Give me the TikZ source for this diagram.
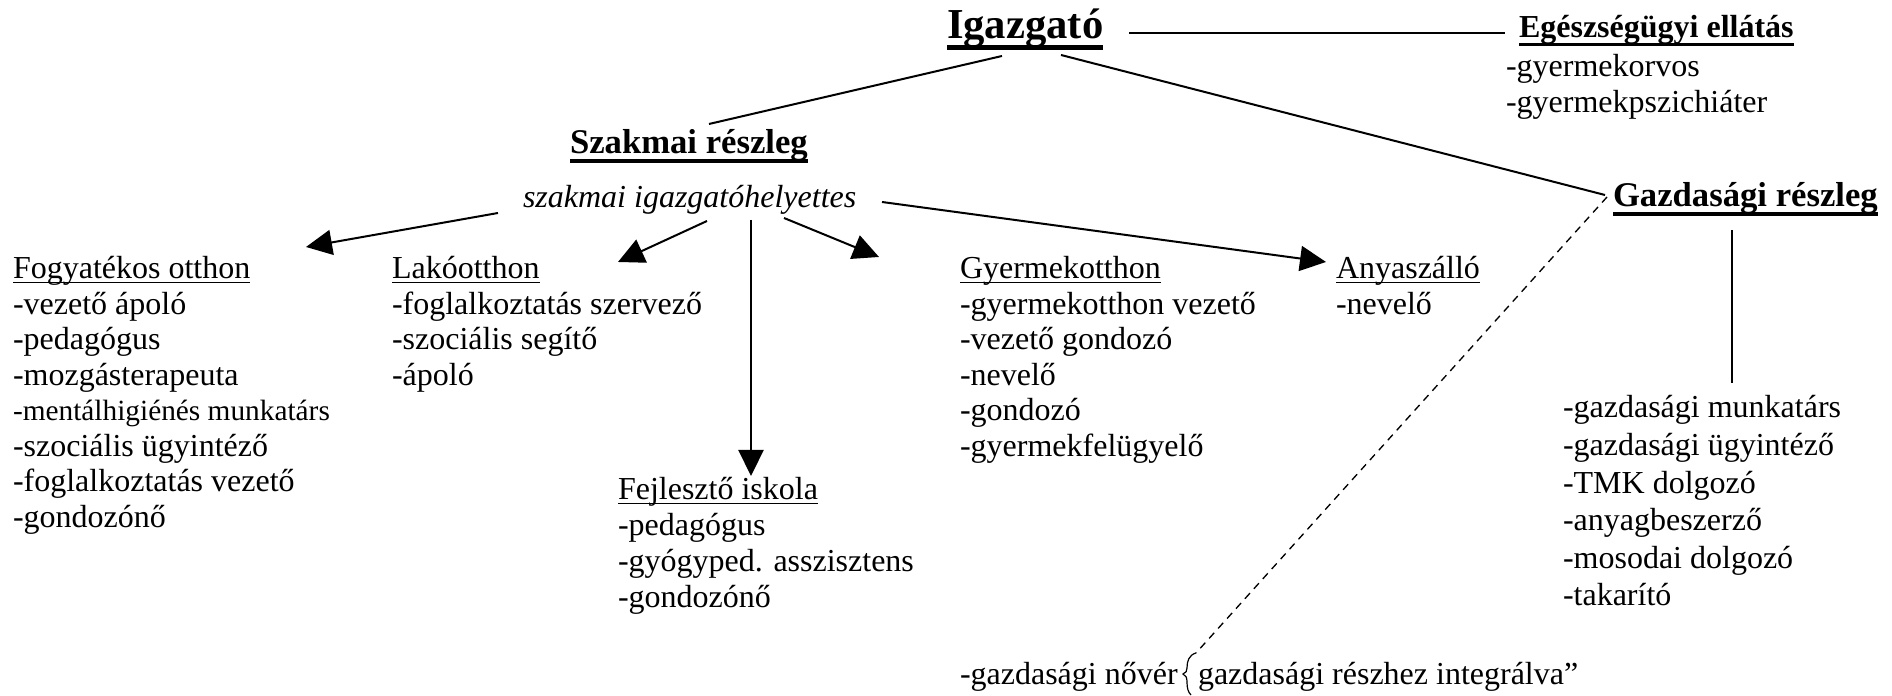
\documentclass[tikz,border=0pt]{standalone}
\usepackage{fontspec}
\setmainfont{Liberation Serif}
\usetikzlibrary{arrows.meta}
\newcommand\ulr[1]{\setbox0\hbox{#1}\rlap{\rule[-0.135em]{\wd0}{0.055em}}\box0}
\newcommand\ulb[1]{\setbox0\hbox{#1}\rlap{\rule[-0.25em]{\wd0}{0.1em}}\box0}
\begin{document}
\begin{tikzpicture}[x=0.375pt,y=-0.375pt,
  txt/.style={anchor=base west,inner sep=0pt,outer sep=0pt,font=\fontsize{12}{14}\selectfont},
  hb/.style={txt,font=\fontsize{13}{15}\selectfont\bfseries},
  conn/.style={line width=0.75pt},
  arr/.style={conn,-{Triangle[length=9.75pt,width=9.4pt]}},
  dsh/.style={line width=0.5pt,dash pattern=on 2.8pt off 2.2pt}]
\useasboundingbox (0,0) rectangle (1892,696);

% headings
\node[txt,font=\fontsize{16}{18}\selectfont\bfseries] (igaz) at (947,39) {\ulb{Igazgató}};
\node[txt,font=\fontsize{12}{14}\selectfont\bfseries] (egesz) at (1519,38) {\ulb{Egészségügyi ellátás}};
\node[hb] (szak) at (570,154) {\ulb{Szakmai részleg}};
\node[txt,font=\fontsize{12}{14}\selectfont\itshape] (helyettes) at (523,208) {szakmai igazgatóhelyettes};
\node[hb] (gazd) at (1613,207) {\ulb{Gazdasági részleg}};

% Egeszsegugyi list
\foreach \t [count=\i] in {-gyermekorvos,-gyermekpszichiáter}
  \node[txt] (eg\i) at (1506,{41+36*\i}) {\t};

% Fogyatekos otthon
\node[txt] (fogy) at (13,279) {\ulr{Fogyatékos otthon}};
\foreach \t [count=\i] in {-vezető ápoló,-pedagógus,-mozgásterapeuta,{{\fontsize{11}{13}\selectfont -mentálhigiénés munkatárs}},-szociális ügyintéző,-foglalkoztatás vezető,-gondozónő}
  \node[txt] (fo\i) at (13,{279+35.5*\i}) {\t};

% Lakootthon
\node[txt] (lak) at (392,279) {\ulr{Lakóotthon}};
\foreach \t [count=\i] in {-foglalkoztatás szervező,-szociális segítő,-ápoló}
  \node[txt] (la\i) at (392,{279+35.5*\i}) {\t};

% Fejleszto iskola
\node[txt] (fejl) at (618,500) {\ulr{Fejlesztő iskola}};
\foreach \t [count=\i] in {-pedagógus,-gyógyped. asszisztens,-gondozónő}
  \node[txt] (fe\i) at (618,{500+35.7*\i}) {\t};

% Gyermekotthon
\node[txt] (gyer) at (960,279) {\ulr{Gyermekotthon}};
\foreach \t [count=\i] in {-gyermekotthon vezető,-vezető gondozó,-nevelő,-gondozó,-gyermekfelügyelő}
  \node[txt] (gy\i) at (960,{279+35.5*\i}) {\t};

% Anyaszallo
\node[txt] (anya) at (1336,279) {\ulr{Anyaszálló}};
\node[txt] (an1) at (1336,314.5) {-nevelő};

% Gazdasagi list
\foreach \t [count=\i from 0] in {-gazdasági munkatárs,-gazdasági ügyintéző,-TMK dolgozó,-anyagbeszerző,-mosodai dolgozó,-takarító}
  \node[txt] (ga\i) at (1563,{418+37.6*\i}) {\t};

% bottom line
\node[txt] (nover) at (960,685) {-gazdasági nővér};
\node[txt] (integ) at (1198,685) {gazdasági részhez integrálva”};

% connector end points
\coordinate (igazE) at (1129,33);
\coordinate (egeszW) at (1505,33);
\coordinate (igazSW) at (1002,56);
\coordinate (szakN) at (709,124);
\coordinate (igazSE) at (1061,55);
\coordinate (gazdNW) at (1605,195);
\coordinate (hW) at (498,213);
\coordinate (fogyT) at (306,247);
\coordinate (hS1) at (707,221);
\coordinate (lakT) at (618,262);
\coordinate (hS2) at (751,220);
\coordinate (fejlT) at (751,476);
\coordinate (hS3) at (784,218);
\coordinate (gyerT) at (879,257);
\coordinate (hE) at (882,202);
\coordinate (anyaT) at (1326,262);
\coordinate (gazdS) at (1732,230);
\coordinate (gazdL) at (1732,383);
\coordinate (gazdD) at (1607,197);
\coordinate (brtop) at (1196,653);

\draw[conn] (igazE) -- (egeszW);
\draw[conn] (igazSW) -- (szakN);
\draw[conn] (igazSE) -- (gazdNW);
\draw[arr] (hW) -- (fogyT);
\draw[arr] (hS1) -- (lakT);
\draw[arr] (hS2) -- (fejlT);
\draw[arr] (hS3) -- (gyerT);
\draw[arr] (hE) -- (anyaT);
\draw[conn] (gazdS) -- (gazdL);
\draw[dsh] (gazdD) -- (brtop);
\draw[line width=0.45pt] (brtop) .. controls (1189,655) and (1187,661) .. (1187,668)
  .. controls (1187,671) and (1186,673) .. (1183,674)
  .. controls (1186,675) and (1187,678) .. (1187,682)
  .. controls (1187,688) and (1188,692) .. (1191,695);
\end{tikzpicture}
\end{document}
